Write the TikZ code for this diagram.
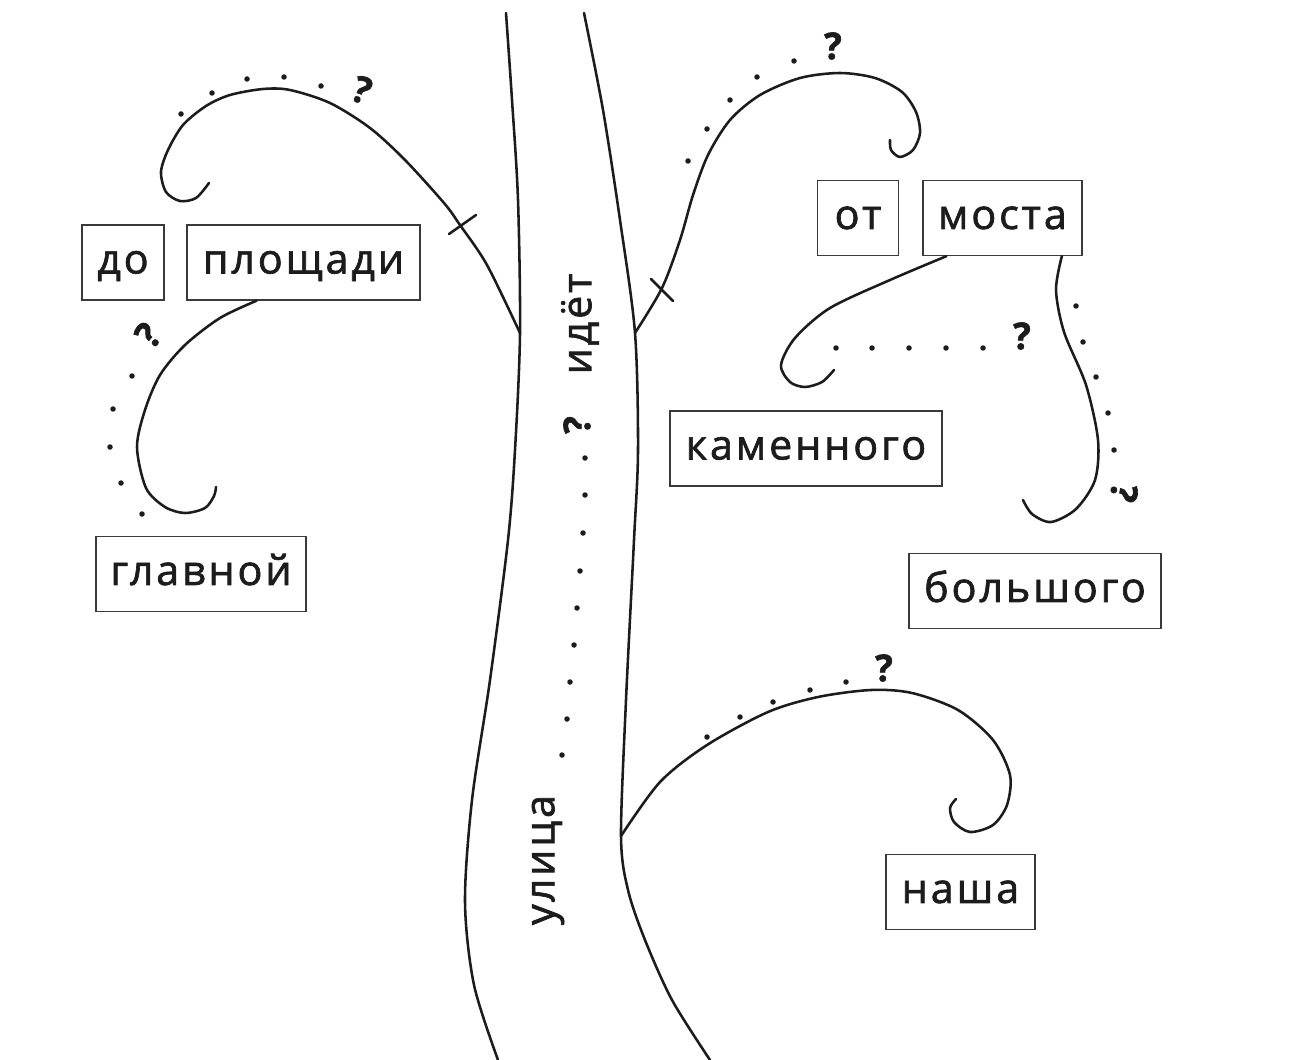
\documentclass[tikz,border=0pt]{standalone}
\usepackage{fontspec}
\setmainfont{Open Sans}[LetterSpace=7.0, FakeBold=1.6]
\usetikzlibrary{calc}

\definecolor{inkblack}{HTML}{1C1C1C}
\definecolor{boxgray}{HTML}{3A3A3A}

\begin{document}
\begin{tikzpicture}[x=0.02cm, y=-0.02cm,
  word/.style={draw=boxgray, line width=0.8pt, text=inkblack, inner sep=0pt,
    minimum height=1.5cm, text height=12.5pt, text depth=0pt,
    font=\fontsize{23.5}{28}\selectfont},
  vword/.style={text=inkblack, inner sep=0pt, rotate=90,
    font=\fontsize{23.5}{28}\selectfont},
  ask/.style={text=inkblack, inner sep=0pt, font=\bfseries\fontsize{21}{24}\selectfont},
  branch/.style={inkblack, line width=1.45pt, line cap=round}]

%─────────────
% Controls
%─────────────
\useasboundingbox (0,0) rectangle (1290,1060);

%─────────────────────────────────────────────────────────────
% One dot of a question line
%─────────────────────────────────────────────────────────────
\newcommand{\askDot}[2]{%
  \fill[inkblack] ({#1},{#2}) circle[radius=0.055cm];
}

%─────────────
% Word boxes
%─────────────
\node[word, minimum width=1.64cm] (do)         at (123,262.5)  {до};
\node[word, minimum width=4.66cm] (ploshchadi) at (303.5,262.5) {площади};
\node[word, minimum width=4.2cm]  (glavnoy)    at (201,574)    {главной};
\node[word, minimum width=1.62cm] (ot)         at (858,218)    {от};
\node[word, minimum width=3.18cm] (mosta)      at (1002.5,218) {моста};
\node[word, minimum width=5.44cm] (kamennogo)  at (806,448.5)  {каменного};
\node[word, minimum width=5.04cm] (bolshogo)   at (1035,591)   {большого};
\node[word, minimum width=2.98cm] (nasha)      at (960.5,892)  {наша};

\node[vword] (idet)   at (580,324) {идёт};
\node[vword] (ulitsa) at (548,860) {улица};

%─────────────
% Trunk
%─────────────
\draw[branch] plot[smooth] coordinates {(506,13) (512,100) (518,200) (520,333)
  (515,450) (508,540) (490,680) (472,800) (465,902) (474,985) (498,1060)};
\draw[branch] plot[smooth] coordinates {(584,13) (603,110) (620,220) (635,333)
  (638,450) (634,540) (626,700) (621,836) (628,890) (645,940) (672,1000) (710,1060)};

\coordinate (j1) at (520,333);
\coordinate (j2) at (635,333);
\coordinate (j3) at (621,836);

%─────────────
% Branches
%─────────────
% до площади
\draw[branch] plot[smooth] coordinates {(j1) (487,265) (460,225) (444,203) (405,160)
  (370,128) (330,103) (290,90) (263,89) (230,95) (206,106) (183,125) (168,150)
  (161,172) (166,192) (180,201) (196,198) (209,183)};
\draw[branch] (449,234) -- (476,215);

% главной
\coordinate (p1) at ($(ploshchadi.south west)!0.3!(ploshchadi.south east)$);
\draw[branch] plot[smooth] coordinates {(p1) (220,318) (185,345) (160,375) (145,410)
  (137,447) (146,488) (165,507) (185,513) (205,508) (214,496) (216,487)};

% от моста
\draw[branch] plot[smooth] coordinates {(j2) (662,288) (680,240) (693,195) (708,155)
  (730,120) (760,95) (800,78) (840,73) (875,78) (902,92) (916,112) (920,133)
  (913,150) (900,157) (891,150) (890,140)};
\draw[branch] (651,279) -- (673,301);

% каменного
\coordinate (m1) at ($(mosta.south west)!0.15!(mosta.south east)$);
\draw[branch] plot[smooth] coordinates {(m1) (890,280) (830,308) (795,338) (781,365)
  (790,382) (805,387) (822,382) (834,370)};

% большого
\coordinate (m2) at ($(mosta.south west)!0.87!(mosta.south east)$);
\draw[branch] plot[smooth] coordinates {(m2) (1056,290) (1064,332) (1086,385)
  (1098,440) (1095,480) (1076,509) (1051,522) (1032,514) (1023,500)};

% наша
\draw[branch] plot[smooth] coordinates {(j3) (660,782) (707,745) (768,712) (818,697)
  (871,690) (912,693) (958,710) (993,740) (1010,775) (1007,805) (993,825)
  (970,832) (954,822) (950,808) (956,799)};

%─────────────
% Question lines
%─────────────
% какой площади
\askDot{181}{114}
\askDot{212}{93}
\askDot{247}{79}
\askDot{284}{77}
\askDot{321}{86}
\node[ask, rotate=-20] (q1) at (362,90) {?};

% до какой
\node[ask, rotate=50] (q2) at (148,335) {?};
\askDot{132}{376}
\askDot{113}{409}
\askDot{110}{447}
\askDot{121}{483}
\askDot{142}{514}

% откуда
\askDot{688}{161}
\askDot{707}{129}
\askDot{730}{100}
\askDot{757}{77}
\askDot{794}{61}
\node[ask] (q3) at (833,46) {?};

% какого (каменного)
\askDot{836}{348}
\askDot{872}{348}
\askDot{909}{348}
\askDot{946}{348}
\askDot{983}{348}
\node[ask] (q4) at (1022,336) {?};

% какого (большого)
\askDot{1076}{306}
\askDot{1083}{342}
\askDot{1096}{377}
\askDot{1108}{413}
\askDot{1114}{450}
\node[ask, rotate=-100] (q5) at (1124,493) {?};

% что делает
\node[ask, rotate=90] (q6) at (577,425) {?};
\askDot{585}{458}
\askDot{585}{495}
\askDot{583}{533}
\askDot{580}{571}
\askDot{577}{608}
\askDot{574}{645}
\askDot{570}{682}
\askDot{567}{719}
\askDot{562}{755}

% чья
\askDot{707}{737}
\askDot{740}{717}
\askDot{773}{702}
\askDot{810}{690}
\askDot{846}{682}
\node[ask] (q7) at (884,668) {?};

\end{tikzpicture}
\end{document}
